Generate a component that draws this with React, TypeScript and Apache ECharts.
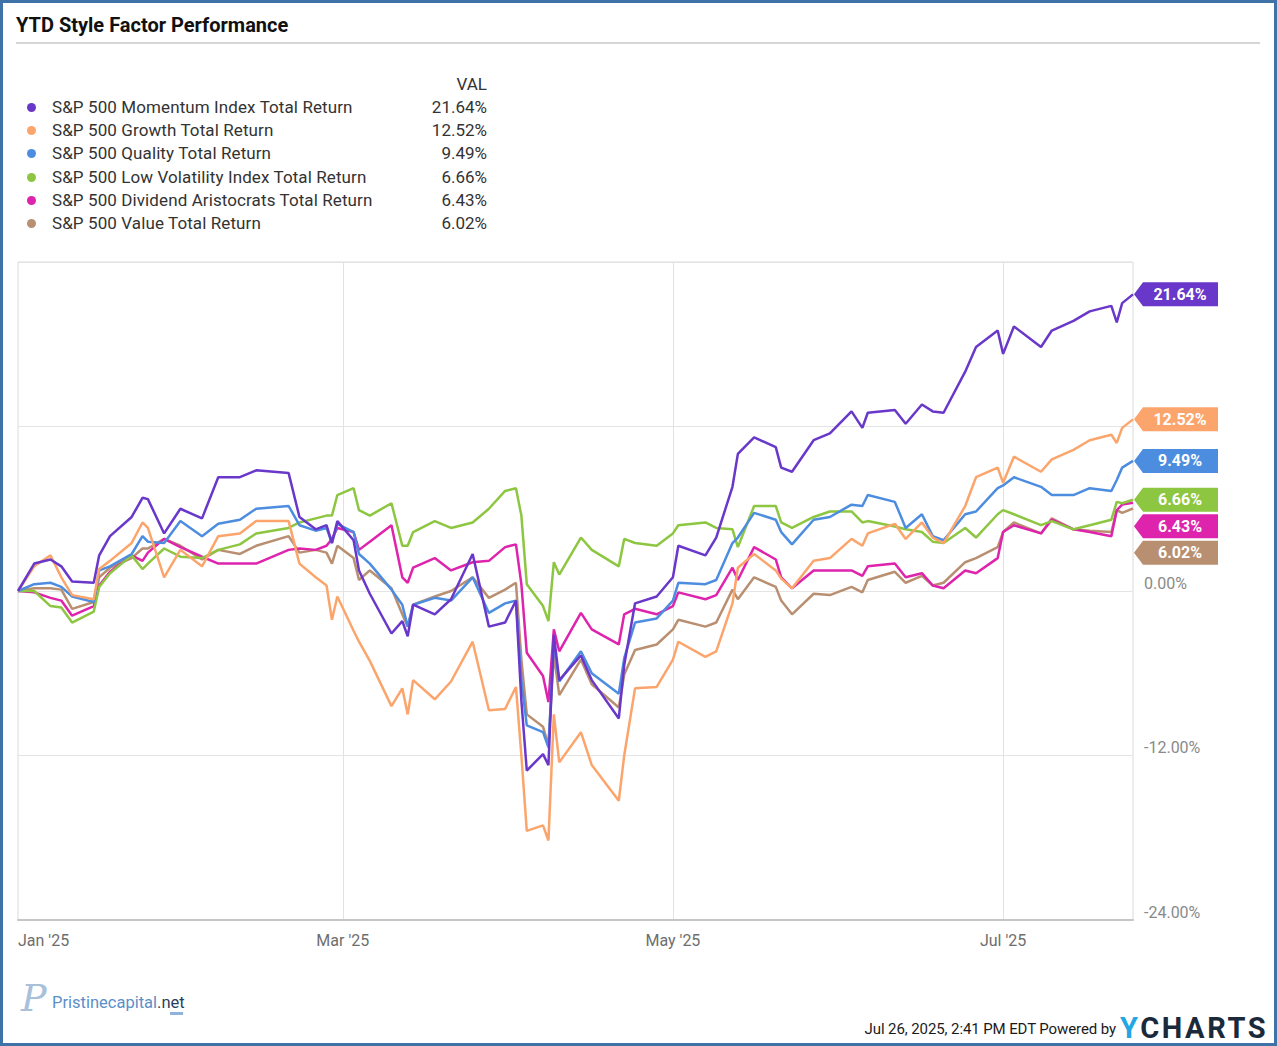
import { useEffect, useRef } from 'react'
import * as echarts from 'echarts'

// ── Data (% total return YTD) ───────────────────────────────────────────────
const SERIES_NAMES = [
  'S&P 500 Momentum Index Total Return',
  'S&P 500 Growth Total Return',
  'S&P 500 Quality Total Return',
  'S&P 500 Low Volatility Index Total Return',
  'S&P 500 Dividend Aristocrats Total Return',
  'S&P 500 Value Total Return',
]
const SERIES_COLORS = ['#6937c9', '#fba56c', '#4d8de0', '#8dc641', '#de23ad', '#b98f71']

const DATES = [
  '2024-12-31', '2025-01-03', '2025-01-06', '2025-01-08', '2025-01-10', '2025-01-14', '2025-01-15', '2025-01-17', '2025-01-21', '2025-01-23',
  '2025-01-24', '2025-01-27', '2025-01-30', '2025-02-03', '2025-02-06', '2025-02-10', '2025-02-13', '2025-02-19', '2025-02-21', '2025-02-24',
  '2025-02-26', '2025-02-27', '2025-02-28', '2025-03-03', '2025-03-04', '2025-03-06', '2025-03-10', '2025-03-12', '2025-03-13', '2025-03-14',
  '2025-03-18', '2025-03-21', '2025-03-25', '2025-03-28', '2025-03-31', '2025-04-02', '2025-04-03', '2025-04-04', '2025-04-07', '2025-04-08',
  '2025-04-09', '2025-04-10', '2025-04-14', '2025-04-16', '2025-04-21', '2025-04-22', '2025-04-24', '2025-04-28', '2025-05-01', '2025-05-02',
  '2025-05-07', '2025-05-09', '2025-05-12', '2025-05-13', '2025-05-16', '2025-05-20', '2025-05-21', '2025-05-23', '2025-05-27', '2025-05-30',
  '2025-06-03', '2025-06-05', '2025-06-06', '2025-06-11', '2025-06-13', '2025-06-16', '2025-06-18', '2025-06-20', '2025-06-24', '2025-06-26',
  '2025-06-30', '2025-07-01', '2025-07-03', '2025-07-08', '2025-07-10', '2025-07-14', '2025-07-17', '2025-07-21', '2025-07-22', '2025-07-23',
  '2025-07-25',
]

const MOMENTUM = [
  0, 2.0, 2.3, 1.8, 0.7, 0.6, 2.6, 4.0, 5.4, 6.8,
  6.7, 4.2, 6.0, 5.3, 8.3, 8.3, 8.8, 8.6, 5.4, 4.5,
  4.8, 3.5, 5.1, 3.7, 1.5, -0.2, -3.1, -2.2, -3.3, -1.0,
  -1.7, -0.6, 2.7, -2.6, -2.3, -0.7, -8.0, -13.1, -11.9, -12.7,
  -3.2, -6.5, -4.7, -6.5, -9.3, -5.4, -0.9, -0.4, 1.0, 3.3,
  2.6, 3.9, 7.6, 10.0, 11.2, 10.5, 9.0, 8.7, 11.0, 11.5,
  13.1, 11.9, 13.0, 13.2, 12.2, 13.6, 13.1, 13.0, 16.0, 17.8,
  19.0, 17.3, 19.3, 17.8, 19.0, 19.7, 20.4, 20.8, 19.6, 21.0,
  21.64,
]
const GROWTH = [
  0, 1.8, 2.6, 1.0, -0.3, -0.6, 1.6, 2.2, 3.5, 5.0,
  4.6, 1.0, 3.0, 1.8, 4.0, 4.2, 5.1, 5.1, 2.0, 1.0,
  0.4, -2.1, -0.4, -2.9, -3.7, -5.1, -8.4, -7.1, -9.0, -6.5,
  -7.9, -6.6, -3.7, -8.7, -8.6, -7.0, -12.0, -17.5, -17.1, -18.2,
  -9.0, -12.5, -10.3, -12.7, -15.3, -12.0, -7.1, -7.0, -5.0, -3.7,
  -4.8, -4.4, -0.9, 1.7, 2.7, 1.5, 0.9, 0.2, 2.2, 2.4,
  3.8, 3.3, 4.2, 4.9, 3.8, 5.0, 3.9, 3.5, 6.2, 8.3,
  9.0, 7.9, 9.8, 8.7, 9.6, 10.3, 11.0, 11.4, 10.8, 11.9,
  12.52,
]
const QUALITY = [
  0, 0.5, 0.6, 0.3, -0.4, -0.8, 1.5, 1.8, 2.7, 4.0,
  3.6, 3.5, 5.1, 4.0, 4.9, 5.2, 6.0, 6.2, 4.8, 4.4,
  4.6, 3.5, 4.9, 4.3, 2.7, 2.0, 0.1, -1.0, -2.6, -1.0,
  -0.5, -0.7, 1.0, -1.6, -0.9, -0.7, -6.5, -9.8, -10.3, -11.4,
  -3.8, -6.6, -4.4, -6.0, -7.5, -4.9, -2.3, -2.0, -0.7, 0.6,
  0.5, 0.8, 3.5, 3.9, 5.7, 5.2, 4.3, 3.4, 5.2, 5.4,
  6.3, 6.2, 7.0, 6.5, 4.6, 5.6, 4.0, 3.7, 5.6, 5.8,
  7.5, 7.7, 8.3, 7.6, 7.0, 7.0, 7.5, 7.3, 8.1, 9.0,
  9.49,
]
const LOW_VOL = [
  0, 0, -1.1, -1.2, -2.3, -1.5, 0.3, 1.3, 2.6, 1.6,
  2.0, 3.1, 2.5, 2.4, 3.0, 3.4, 4.2, 4.6, 5.0, 5.3,
  5.5, 5.5, 7.0, 7.5, 5.9, 5.5, 6.4, 3.3, 3.3, 4.3,
  5.1, 4.6, 5.0, 6.0, 7.3, 7.5, 5.5, 0.5, -1.1, -2.2,
  2.1, 1.2, 3.9, 3.0, 1.8, 3.8, 3.5, 3.3, 4.2, 4.8,
  5.0, 4.6, 4.5, 3.2, 6.2, 6.2, 5.0, 4.6, 5.4, 5.8,
  5.8, 5.0, 5.1, 4.7, 4.5, 4.3, 3.6, 3.5, 4.6, 3.9,
  5.6, 5.9, 5.6, 4.8, 5.1, 4.5, 4.8, 5.2, 6.5, 6.4,
  6.66,
]
const DIVIDEND = [
  0, -0.1, -0.5, -0.7, -1.8, -1.1, 0.4, 1.4, 2.6, 2.2,
  2.8, 3.8, 3.2, 2.5, 2.0, 2.0, 2.0, 3.0, 3.1, 3.0,
  3.3, 3.8, 4.6, 4.3, 3.0, 3.6, 4.8, 1.0, 0.6, 1.7,
  2.4, 1.5, 2.1, 2.2, 3.2, 3.4, 0.5, -4.5, -6.2, -8.1,
  -2.8, -4.4, -1.6, -2.8, -3.9, -1.7, -1.3, -1.7, -1.1, -0.1,
  -0.6, -0.3, 1.7, 0.8, 3.2, 2.3, 1.0, 0.2, 1.5, 1.5,
  1.5, 1.1, 1.8, 2.0, 1.0, 1.3, 0.4, 0.2, 1.5, 1.3,
  2.4, 4.3, 4.8, 4.2, 5.2, 4.5, 4.3, 4.0, 5.9, 6.3,
  6.43,
]
const VALUE = [
  0, 0.2, 0.2, 0.1, -1.3, -0.8, 1.0, 1.7, 2.4, 3.1,
  3.1, 3.8, 3.3, 2.3, 3.0, 2.7, 3.3, 4.0, 2.8, 3.0,
  2.8, 2.0, 3.3, 2.4, 0.8, 1.5, 0.2, -1.7, -2.6, -1.0,
  -0.4, 0.0, 1.0, -0.5, 0.1, 0.6, -5.0, -9.0, -9.9, -11.3,
  -4.6, -7.6, -5.0, -6.8, -8.5, -6.1, -4.3, -3.9, -2.8, -2.1,
  -2.6, -2.3, 0.1, -0.6, 1.0, 0.3, -0.7, -1.7, -0.2, -0.3,
  0.3, -0.1, 0.8, 1.4, 0.6, 1.1, 0.4, 0.6, 2.1, 2.4,
  3.2, 4.3, 5.0, 4.2, 5.3, 4.5, 4.4, 4.3, 5.9, 5.7,
  6.02,
]
const SERIES_VALUES = [MOMENTUM, GROWTH, QUALITY, LOW_VOL, DIVIDEND, VALUE]

const X_TICKS = ['2024-12-31', '2025-03-01', '2025-05-01', '2025-07-01']
const X_TICK_LABELS = ["Jan '25", "Mar '25", "May '25", "Jul '25"]
const Y_LABELLED = [0, -12, -24]

const ts = (d: string) => new Date(d + 'T00:00:00').getTime()
const pct = (v: number) => `${v.toFixed(2)}%`

const FONT = 'Roboto, "Noto Sans", sans-serif'
const FLAG_PATH = 'path://M0,12L9,0L84,0L84,24L9,24Z'

export default function App() {
  const chartRef = useRef<HTMLDivElement>(null)

  useEffect(() => {
    document.body.style.margin = '0'
    if (!chartRef.current) return
    const chart = echarts.init(chartRef.current, undefined, { renderer: 'svg' })

    const tickTs = X_TICKS.map(ts)
    const lastTs = ts(DATES[DATES.length - 1])

    const option: echarts.EChartsOption = {
      animation: false,
      backgroundColor: 'transparent',
      grid: {
        left: 18, top: 262, width: 1115, height: 658,
        show: true, borderColor: '#dadada', borderWidth: 1,
      },
      xAxis: {
        // timestamps on a plain value axis so the month ticks can be placed exactly
        type: 'value',
        min: tickTs[0],
        max: lastTs,
        axisLine: { show: true, onZero: false, lineStyle: { color: '#c6c6c6', width: 2 } },
        axisTick: { show: false, customValues: tickTs.slice(1) },
        splitLine: { show: true, lineStyle: { color: '#e2e2e2', width: 1 } },
        axisLabel: {
          customValues: tickTs,
          formatter: (v: number) => {
            const i = tickTs.findIndex(t => Math.abs(t - v) < 43200000)
            return i >= 0 ? X_TICK_LABELS[i] : ''
          },
          alignMinLabel: 'left',
          color: '#6e6e6e',
          fontSize: 16,
          fontFamily: FONT,
          margin: 12,
        },
      },
      yAxis: {
        type: 'value',
        position: 'right',
        min: -24,
        max: 24,
        interval: 12,
        axisLine: { show: false },
        axisTick: { show: false },
        splitLine: { lineStyle: { color: '#e4e4e4', width: 1 } },
        axisLabel: {
          formatter: (v: number) => (Y_LABELLED.includes(v) ? pct(v) : ''),
          color: '#8a8a8a',
          fontSize: 16,
          fontFamily: FONT,
          margin: 11,
          verticalAlign: 'bottom',
        },
      },
      series: SERIES_VALUES.map((vals, i) => ({
        type: 'line',
        name: SERIES_NAMES[i],
        showSymbol: false,
        symbol: 'none',
        z: 10 - i,
        lineStyle: { color: SERIES_COLORS[i], width: 2.5 },
        itemStyle: { color: SERIES_COLORS[i] },
        data: DATES.map((d, k) => [ts(d), vals[k]]),
        markPoint: {
          silent: true,
          symbol: FLAG_PATH,
          symbolSize: [84, 24],
          symbolKeepAspect: false,
          symbolOffset: [43, 0],
          itemStyle: { color: SERIES_COLORS[i] },
          label: {
            show: true,
            position: 'inside',
            offset: [4, 0],
            color: '#fff',
            fontWeight: 'bold',
            fontSize: 16,
            fontFamily: FONT,
            formatter: () => pct(vals[vals.length - 1]),
          },
          data: [{ coord: [lastTs, vals[vals.length - 1]] }],
        },
      })),
    }

    chart.setOption(option)

    // push the end-of-line flags apart so they don't overlap
    const ys = SERIES_VALUES.map(v => (chart.convertToPixel({ gridIndex: 0 }, [lastTs, v[v.length - 1]]) as number[])[1])
    const order = ys.map((_, i) => i).sort((a, b) => ys[a] - ys[b])
    const offsets = ys.map(() => 0)
    let prev = -Infinity
    order.forEach(i => {
      const y = Math.max(ys[i], prev + 26.5)
      offsets[i] = y - ys[i]
      prev = y
    })
    chart.setOption({
      series: SERIES_VALUES.map((_, i) => ({ markPoint: { symbolOffset: [43, offsets[i]] } })),
    })

    return () => chart.dispose()
  }, [])

  return (
    <div style={{ position: 'relative', width: 1277, height: 1046, background: '#fff', overflow: 'hidden', fontFamily: FONT }}>
      <div ref={chartRef} style={{ position: 'absolute', left: 0, top: 0, width: 1277, height: 1046 }} />

      {/* ── Title ── */}
      <div style={{ position: 'absolute', left: 16, top: 13, fontSize: 20, fontWeight: 700, color: '#111', whiteSpace: 'nowrap' }}>
        YTD Style Factor Performance
      </div>
      <div style={{ position: 'absolute', left: 16, top: 42, width: 1244, height: 2, background: '#d6d6d6' }} />

      {/* ── Legend with values ── */}
      <div style={{ position: 'absolute', left: 400, width: 87, top: 74, textAlign: 'right', fontSize: 17, color: '#333' }}>VAL</div>
      {SERIES_NAMES.map((name, i) => {
        const top = 97 + i * 23.2
        const vals = SERIES_VALUES[i]
        return (
          <div key={name}>
            <span style={{ position: 'absolute', left: 26.5, top: top + 6, width: 9, height: 9, borderRadius: '50%', background: SERIES_COLORS[i] }} />
            <span style={{ position: 'absolute', left: 52, top, fontSize: 17, color: '#333', whiteSpace: 'nowrap', letterSpacing: 0.1 }}>{name}</span>
            <span style={{ position: 'absolute', left: 400, width: 87, top, fontSize: 17, color: '#333', textAlign: 'right' }}>
              {pct(vals[vals.length - 1])}
            </span>
          </div>
        )
      })}

      {/* ── Footer ── */}
      <div style={{ position: 'absolute', left: 21, top: 976, fontFamily: '"DejaVu Serif", serif', fontStyle: 'italic', fontSize: 38, color: '#a9c0da', whiteSpace: 'nowrap' }}>
        P
      </div>
      <div style={{ position: 'absolute', left: 52, top: 993, whiteSpace: 'nowrap', fontSize: 16.5 }}>
        <span style={{ color: '#5b8fc7' }}>Pristinecapital</span>
        <span style={{ color: '#2b3d5c' }}>.net</span>
      </div>
      <div style={{ position: 'absolute', left: 170, top: 1012, width: 13, height: 3, background: '#8fb3dc' }} />
      <div style={{ position: 'absolute', right: 161, top: 1020, fontSize: 15, color: '#1b1b1b', whiteSpace: 'nowrap', letterSpacing: -0.1 }}>
        Jul 26, 2025, 2:41 PM EDT Powered by
      </div>
      <div style={{ position: 'absolute', left: 1120, top: 1011, fontSize: 29, fontWeight: 700, whiteSpace: 'nowrap', letterSpacing: 2.6 }}>
        <span style={{ color: '#23a6e3' }}>Y</span>
        <span style={{ color: '#1a2a3a' }}>CHARTS</span>
      </div>

      {/* ── Frame ── */}
      <div style={{ position: 'absolute', inset: 0, border: '3px solid #3f73a7', pointerEvents: 'none' }} />
    </div>
  )
}
